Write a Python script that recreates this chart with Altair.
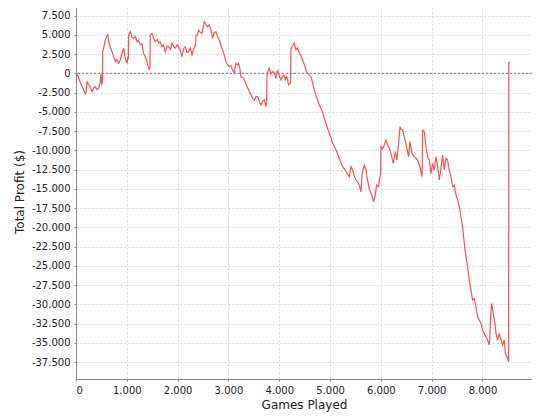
import altair as alt
import pandas as pd

# (games played, total profit $), in segments
seg1 = [(0, 0), (40, -400), (80, -1100), (120, -1700), (150, -2100), (183, -2690), (200, -2400),
        (216, -1090), (250, -1500), (281, -1740), (315, -2390), (350, -1900), (380, -1740), (410, -2100),
        (445, -1950), (478, -1090), (490, -100), (505, -1400), (520, -1200), (526, 2800), (545, 3300),
        (577, 4330), (600, 4700), (622, 5100), (640, 4300), (661, 3680), (708, 2800), (740, 2200),
        (773, 1510), (800, 1800), (839, 1300), (872, 1730), (905, 2600), (937, 3250), (970, 1950),
        (1004, 1300), (1023, 2160), (1030, 1800), (1036, 4980), (1069, 5400), (1100, 4700), (1134, 4550),
        (1170, 4800), (1200, 4100), (1230, 4300), (1265, 3680), (1300, 3800), (1330, 2600), (1360, 2200),
        (1397, 1510), (1420, 900), (1443, 430), (1456, 900)]
seg2 = [(1462, 4980), (1496, 5200), (1530, 4500), (1561, 4100), (1600, 4400), (1626, 3900), (1660, 4100),
        (1692, 3460), (1720, 3700), (1757, 2800), (1790, 3500), (1823, 3460), (1860, 3100), (1889, 3900),
        (1920, 3500), (1954, 3250), (1990, 3700), (2019, 3460), (2050, 3000), (2086, 2160), (2120, 3200),
        (2151, 3460), (2185, 2700), (2216, 2800), (2250, 3300), (2283, 2380), (2310, 3000), (2334, 3460),
        (2350, 3600), (2362, 4980), (2390, 5000), (2413, 5620), (2450, 5300), (2480, 5200), (2525, 6700),
        (2560, 6300), (2590, 6050), (2620, 6300), (2657, 5620), (2688, 4550), (2720, 5300), (2755, 5400),
        (2790, 4700), (2820, 4330), (2850, 3700), (2885, 3030), (2920, 2300), (2951, 1510), (2985, 1100),
        (3017, 860), (3050, 1000), (3082, 430), (3115, 0), (3130, 700), (3149, 1300), (3175, 1100),
        (3200, 1300), (3225, 600), (3247, -440), (3280, -500), (3315, -870), (3350, -1500), (3380, -1950),
        (3410, -2300), (3446, -2820), (3480, -3300), (3511, -3470), (3545, -3000), (3577, -3040),
        (3610, -3700), (3641, -4120), (3675, -3600), (3708, -3470), (3739, -4340), (3750, -4000)]
seg3 = [(3759, -220), (3780, 300), (3804, 650), (3835, -100), (3869, 210), (3900, 100), (3936, -650),
        (3967, 430), (4000, -300), (4034, -870), (4065, -400), (4099, -220), (4120, -800), (4145, -440),
        (4165, -900), (4184, -1520), (4212, -1300), (4222, -1200), (4231, 3250), (4260, 3500), (4296, 3900),
        (4330, 3030), (4360, 3300), (4395, 2600), (4430, 2200), (4460, 1730), (4495, 1100), (4526, 430),
        (4558, 0), (4590, -200), (4624, -440), (4655, -1200), (4689, -2170), (4720, -2800), (4755, -3470),
        (4788, -4120), (4820, -4550), (4853, -4990), (4885, -5800), (4920, -6500), (4950, -7100),
        (4985, -7790), (5020, -8400), (5050, -9090), (5085, -9500), (5117, -9960), (5150, -10500),
        (5182, -11040), (5215, -11600), (5247, -12130), (5280, -12400), (5313, -12780), (5345, -13100),
        (5379, -13430), (5395, -12800), (5412, -12130), (5444, -12560), (5475, -13300), (5510, -13860),
        (5540, -14100), (5575, -14510), (5609, -15380), (5629, -13210), (5650, -12500), (5674, -11910),
        (5707, -12560), (5739, -13860), (5772, -14940), (5806, -15590), (5830, -16000), (5857, -16680),
        (5890, -15810), (5916, -14510), (5955, -14730), (5983, -13430), (5995, -13000)]
seg4 = [(6002, -9540), (6035, -9800), (6067, -9310), (6101, -8660), (6135, -9300), (6166, -9740),
        (6199, -10390), (6244, -11690), (6284, -10180), (6317, -11260), (6349, -9090), (6376, -6930),
        (6400, -7300), (6428, -7370), (6461, -8230), (6507, -9540), (6546, -10830), (6573, -8880),
        (6613, -10390), (6658, -10830), (6690, -11000), (6723, -11260), (6770, -12130), (6809, -13430),
        (6815, -12000), (6821, -7370), (6855, -7590), (6888, -9540), (6920, -10830), (6953, -11260),
        (6986, -12990), (7018, -11690), (7051, -12560), (7085, -10830), (7117, -12130), (7150, -13860),
        (7164, -13210), (7190, -12000), (7215, -10610), (7249, -12560), (7282, -11040), (7313, -11260)]
seg5 = [(7347, -12560), (7380, -13430), (7413, -14730), (7445, -14510), (7479, -15810), (7512, -16460),
        (7544, -17330), (7577, -18630), (7609, -19930), (7642, -22080), (7675, -23820), (7707, -25120),
        (7741, -26850), (7774, -28150), (7806, -29450), (7839, -29230), (7872, -30320), (7904, -31620),
        (7937, -32050), (7971, -32480), (8002, -33350), (8036, -33780), (8069, -34210), (8101, -34640),
        (8134, -35290), (8145, -34500), (8154, -32480), (8180, -29880), (8213, -31180), (8246, -32480),
        (8266, -33780), (8298, -34640), (8331, -33780), (8364, -34640), (8396, -35290), (8430, -34640),
        (8449, -36370), (8482, -36810), (8514, -37460)]
seg6 = [(8518, 1500), (8520, 1200), (8525, 1500)]

x_ticks = [0, 1000, 2000, 3000, 4000, 5000, 6000, 7000, 8000]
y_ticks = list(range(-37500, 7501, 2500))

pts = seg1 + seg2 + seg3 + seg4 + seg5 + seg6
df = pd.DataFrame(pts, columns=["games", "profit"])

fmt = "(datum.value < 0 ? '-' : '') + replace(format(abs(datum.value), ','), ',', '.')"

xs = alt.Scale(domain=[0, 8975], nice=False, zero=False)
ys = alt.Scale(domain=[-39700, 9000], nice=False, zero=False)
y_axis = alt.Axis(values=y_ticks, labelExpr=fmt, labelOverlap=False)

line = alt.Chart(df).mark_line(color="#ff5050", strokeWidth=1.2, clip=True).encode(
    x=alt.X("games:Q", scale=xs, title="Games Played",
            axis=alt.Axis(values=x_ticks, labelExpr=fmt, labelOverlap=False)),
    y=alt.Y("profit:Q", scale=ys, title="Total Profit ($)", axis=y_axis),
)

zero = alt.Chart(pd.DataFrame({"profit": [0]})).mark_rule(
    color="#6a6ae0", strokeDash=[2, 2], strokeWidth=1
).encode(y=alt.Y("profit:Q", scale=ys, title="Total Profit ($)", axis=y_axis))

chart = (zero + line).properties(
    width=456, height=375,
    autosize=alt.AutoSizeParams(type="none"),
    padding={"left": 68, "top": -4, "right": 0, "bottom": 33},
).configure_view(stroke="#999999", strokeWidth=1).configure_axis(
    labelFont="DejaVu Sans", labelFontSize=10, labelColor="#222222",
    titleFont="DejaVu Sans", titleFontSize=12, titleFontWeight="normal", titleColor="#222222",
    domainColor="#888888", tickColor="#888888", tickSize=2, labelPadding=4,
    gridColor="#d6d6d6", gridDash=[2, 2], gridWidth=1,
).configure_axisX(titlePadding=4).configure_axisY(titlePadding=5)

chart.save("out.html", embed_options={"renderer": "svg", "actions": False})
